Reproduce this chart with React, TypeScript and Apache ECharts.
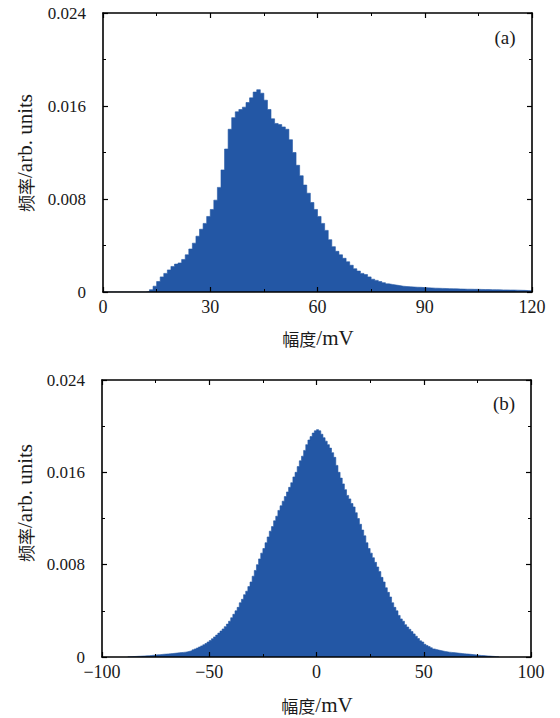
import React, { useEffect, useRef } from "react";
import * as echarts from "echarts";

// ---- data ----
// (a) histogram, 1 mV bins starting at 0 mV
const binWidthA = 1;
const startA = 0;
const freqA = [
  0, 0, 0, 0, 0, 0, 0, 0, 0, 0, 0, 0,
  0.00005, 0.0002, 0.0005, 0.0009, 0.0013, 0.0016, 0.0019, 0.0022, 0.0024, 0.0025,
  0.0028, 0.0032, 0.0037, 0.0042, 0.0048, 0.0054, 0.0059, 0.0065, 0.0071, 0.0079,
  0.0090, 0.0105, 0.0123, 0.0140, 0.0150, 0.0155, 0.0157, 0.0159, 0.0163, 0.0167,
  0.0172, 0.0174, 0.0171, 0.0165, 0.0157, 0.0149, 0.0145, 0.0144, 0.0142, 0.0140,
  0.0131, 0.0120, 0.0109, 0.0100, 0.0092, 0.0085, 0.0077, 0.0071, 0.0065, 0.0059,
  0.0053, 0.0045, 0.0039, 0.0035, 0.0032, 0.0029, 0.0026, 0.0023, 0.0020, 0.0018,
  0.0016, 0.0015, 0.0013, 0.0011, 0.0010, 0.0009, 0.0008, 0.0007, 0.00065, 0.0006,
  0.00055, 0.0005, 0.00047, 0.00045, 0.00043, 0.00041, 0.0004, 0.00038, 0.00036, 0.00035,
  0.00033, 0.00032, 0.00031, 0.0003, 0.00029, 0.00028, 0.00027, 0.00026, 0.00025, 0.00024,
  0.00024, 0.00023, 0.00023, 0.00022, 0.00021, 0.00021, 0.0002, 0.0002, 0.00019, 0.00018,
  0.00018, 0.00017, 0.00017, 0.00016, 0.00015, 0.00014, 0.00012, 0.0001,
];

// (b) histogram, 1 mV bins starting at -88 mV
const binWidthB = 1;
const startB = -88;
const freqB = [
  0.00002, 0.00003, 0.00004, 0.00005, 0.00006, 0.00007, 0.00008, 0.00009, 0.0001, 0.00011,
  0.00013, 0.00015, 0.00017, 0.00019, 0.0002, 0.00022, 0.00024, 0.00025, 0.00027, 0.00029,
  0.0003, 0.00032, 0.00034, 0.00036, 0.00038, 0.0004, 0.00042, 0.00045, 0.0005, 0.00055,
  0.00062, 0.0007, 0.00078, 0.00087, 0.00096, 0.00106, 0.00117, 0.0013, 0.00143, 0.00158,
  0.00174, 0.0019, 0.00207, 0.00225, 0.00243, 0.00263, 0.00285, 0.0031, 0.0034, 0.0037,
  0.004, 0.0043, 0.0047, 0.005, 0.0054, 0.0057, 0.0061, 0.0065, 0.007, 0.0075,
  0.008, 0.0085, 0.009, 0.0094, 0.0099, 0.0104, 0.0109, 0.0113, 0.0118, 0.0122,
  0.0127, 0.0131, 0.0135, 0.0139, 0.0143, 0.0147, 0.0151, 0.0156, 0.016, 0.0165,
  0.017, 0.0174, 0.0179, 0.0184, 0.0188, 0.0191, 0.0194, 0.0196, 0.0197, 0.0196,
  0.0193, 0.019, 0.0187, 0.0184, 0.0181, 0.0177, 0.0173, 0.0166, 0.016, 0.0155,
  0.015, 0.0145, 0.014, 0.0137, 0.0133, 0.013, 0.0125, 0.012, 0.0115, 0.011,
  0.0105, 0.0099, 0.0094, 0.009, 0.0086, 0.0082, 0.0078, 0.0074, 0.0069, 0.0065,
  0.006, 0.0056, 0.0052, 0.0047, 0.0043, 0.004, 0.0036, 0.0033, 0.0031, 0.0028,
  0.0026, 0.0024, 0.0022, 0.002, 0.0018, 0.0016, 0.0014, 0.0013, 0.0011, 0.001,
  0.0009, 0.0008, 0.0007, 0.00065, 0.0006, 0.00056, 0.00052, 0.00048, 0.00045, 0.00042,
  0.0004, 0.00038, 0.00036, 0.00034, 0.00032, 0.0003, 0.00028, 0.00027, 0.00025, 0.00023,
  0.00021, 0.00019, 0.00017, 0.00015, 0.00013, 0.00012, 0.0001, 0.00009, 0.00008, 0.00006,
  0.00005, 0.00003, 0.00002,
];

const xRangeA = [0, 120];
const xIntervalA = 30;
const xRangeB = [-100, 100];
const xIntervalB = 50;
const yRange = [0, 0.024];
const yInterval = 0.008;
const panelLabels = ["(a)", "(b)"];
const xNameCJK = "幅度";
const xNameLatin = "/mV";
const yNameCJK = "频率";
const yNameLatin = "/arb. units";

const BAR = "#2357a5";
const LATIN = '"Liberation Serif", serif';
const CJK = '"Noto Sans CJK SC", sans-serif';
const TXT = "#1a1a1a";

// step outline points: left edge of every bin, plus the right edge of the last one
function toSteps(freq: number[], start: number, w: number) {
  const pts = freq.map((f, i) => [start + i * w, f]);
  pts.push([start + freq.length * w, freq[freq.length - 1]]);
  return pts;
}

export default function App() {
  const ref = useRef<HTMLDivElement>(null);
  useEffect(() => {
    document.body.style.margin = "0";
    const chart = echarts.init(ref.current!, null, { renderer: "svg" });

    const grids = [
      { left: 103, top: 13, width: 429, height: 279 },
      { left: 102, top: 380, width: 429, height: 277 },
    ];

    const minus = (v: number) => (v < 0 ? "\u2212" + Math.abs(v) : String(v));

    const mkX = (gi: number, range: number[], interval: number, pos: string, labels: boolean) => ({
      type: "value",
      gridIndex: gi,
      position: pos,
      min: range[0],
      max: range[1],
      interval,
      axisLine: { show: true, onZero: false, lineStyle: { color: "#000", width: 1.6 } },
      axisTick: { show: true, inside: true, length: 5, lineStyle: { color: "#000", width: 1.2 } },
      minorTick: { show: true, splitNumber: 2, length: 3, lineStyle: { color: "#000", width: 1 } },
      splitLine: { show: false },
      axisLabel: {
        show: labels,
        margin: 6,
        color: TXT,
        fontFamily: LATIN,
        fontSize: 18,
        formatter: (v: number) => minus(v),
      },
      z: 5,
    });

    const mkY = (gi: number, pos: string, labels: boolean) => ({
      type: "value",
      gridIndex: gi,
      position: pos,
      min: yRange[0],
      max: yRange[1],
      interval: yInterval,
      axisLine: { show: true, onZero: false, lineStyle: { color: "#000", width: 1.6 } },
      axisTick: { show: true, inside: true, length: 5, lineStyle: { color: "#000", width: 1.2 } },
      minorTick: { show: true, splitNumber: 2, length: 3, lineStyle: { color: "#000", width: 1 } },
      splitLine: { show: false },
      axisLabel: {
        show: labels,
        margin: 17,
        color: TXT,
        fontFamily: LATIN,
        fontSize: 17,
        formatter: (v: number) => (v === 0 ? "0" : v.toFixed(3)),
      },
      z: 5,
    });

    const histSeries = (xi: number, yi: number, data: number[][]) => ({
      type: "line",
      xAxisIndex: xi,
      yAxisIndex: yi,
      step: "end",
      data,
      showSymbol: false,
      symbol: "none",
      lineStyle: { color: BAR, width: 0.6 },
      areaStyle: { color: BAR, opacity: 1, origin: "start" },
      silent: true,
      z: 2,
    });

    const rich = {
      c: { fontFamily: CJK, fontSize: 17, fill: TXT, color: TXT },
      l: { fontFamily: LATIN, fontSize: 21, fill: TXT, color: TXT },
    };

    const nameText = (x: number, y: number, cjk: string, latin: string, rot: number) => ({
      type: "text",
      x,
      y,
      rotation: rot,
      style: {
        text: `{c|${cjk}}{l|${latin}}`,
        rich,
        fill: TXT,
        align: "center",
        verticalAlign: "middle",
      },
    });

    const option: any = {
      animation: false,
      backgroundColor: "#fff",
      grid: grids,
      xAxis: [
        mkX(0, xRangeA, xIntervalA, "bottom", true),
        mkX(0, xRangeA, xIntervalA, "top", false),
        mkX(1, xRangeB, xIntervalB, "bottom", true),
        mkX(1, xRangeB, xIntervalB, "top", false),
      ],
      yAxis: [mkY(0, "left", true), mkY(0, "right", false), mkY(1, "left", true), mkY(1, "right", false)],
      series: [
        histSeries(0, 0, toSteps(freqA, startA, binWidthA)),
        histSeries(2, 2, toSteps(freqB, startB, binWidthB)),
      ],
      graphic: [
        {
          type: "text",
          x: 505,
          y: 37,
          style: { text: panelLabels[0], font: `19px ${LATIN}`, fill: TXT, align: "center", verticalAlign: "middle" },
        },
        {
          type: "text",
          x: 504,
          y: 403,
          style: { text: panelLabels[1], font: `19px ${LATIN}`, fill: TXT, align: "center", verticalAlign: "middle" },
        },
        nameText(318, 338, xNameCJK, xNameLatin, 0),
        nameText(317, 705, xNameCJK, xNameLatin, 0),
        nameText(25, 153, yNameCJK, yNameLatin, Math.PI / 2),
        nameText(25, 503, yNameCJK, yNameLatin, Math.PI / 2),
      ],
    };
    chart.setOption(option);
    return () => chart.dispose();
  }, []);
  return <div ref={ref} style={{ width: 560, height: 718 }} />;
}
